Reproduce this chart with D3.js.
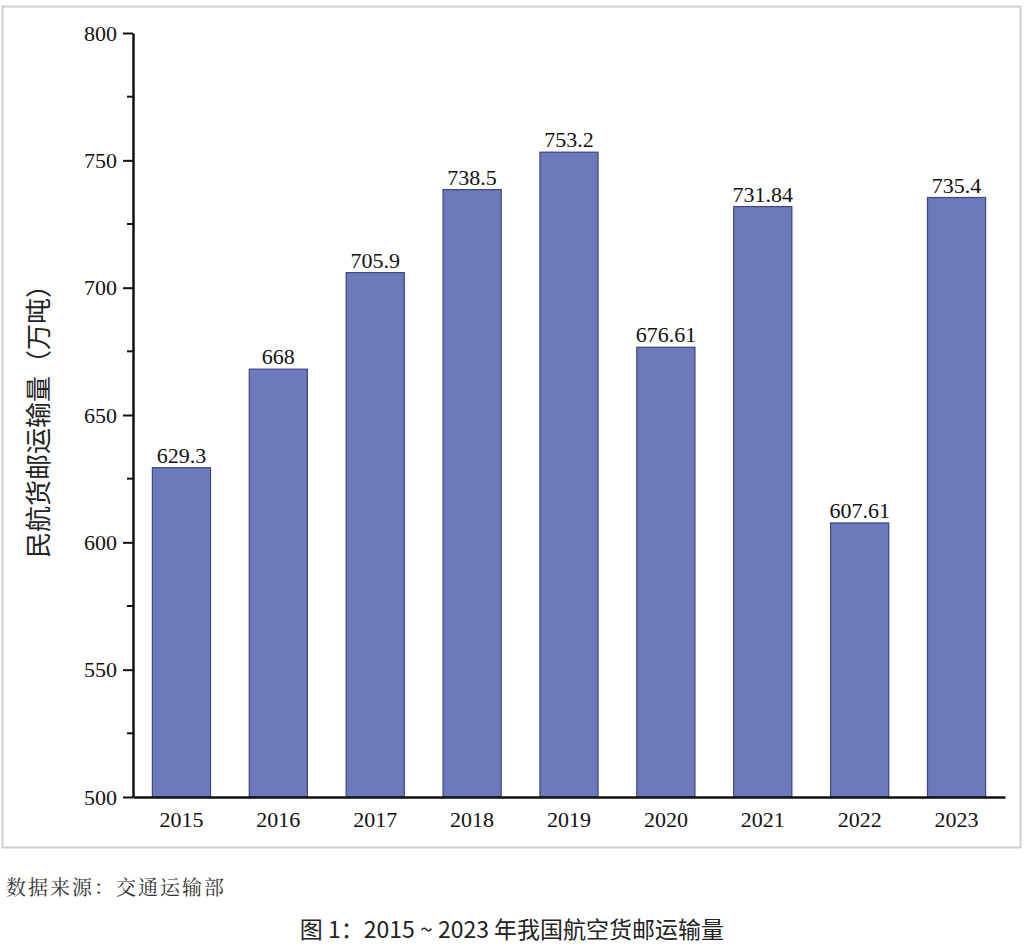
<!DOCTYPE html>
<html><head><meta charset="utf-8">
<script src="https://cdn.jsdelivr.net/npm/d3@7"></script>
<style>body{margin:0;background:#fff}</style>
</head><body>
<svg id="chart" width="1024" height="951"></svg>
<script>
// data
var years = ['2015','2016','2017','2018','2019','2020','2021','2022','2023'];
var volumes = [629.3, 668, 705.9, 738.5, 753.2, 676.61, 731.84, 607.61, 735.4];
var labels = ['629.3','668','705.9','738.5','753.2','676.61','731.84','607.61','735.4'];
var yTicks = [500, 550, 600, 650, 700, 750, 800];

var margin = {top: 33, right: 19, bottom: 154, left: 133}
  , width = 1024
  , height = 951
  , innerW = width - margin.left - margin.right
  , innerH = height - margin.top - margin.bottom;

var svg = d3.select('#chart');
var serif = '"Liberation Serif", "DejaVu Serif", serif';

// outer frame
svg.append('rect').attr('x', 2.5).attr('y', 6.5).attr('width', 1018).attr('height', 841)
    .attr('fill', 'none').attr('stroke', '#cfcfcf').attr('stroke-width', 2);

var g = svg.append('g').attr('transform', 'translate(' + margin.left + ',' + margin.top + ')');

var x = d3.scaleBand().domain(years).range([0, innerW]).paddingInner(0.4).paddingOuter(0.2);
var y = d3.scaleLinear().domain([500, 800]).range([innerH, 0]);

g.selectAll('rect.bar').data(volumes).enter().append('rect')
    .attr('class', 'bar')
    .attr('x', function (d, i) { return x(years[i]); })
    .attr('y', function (d) { return y(d); })
    .attr('width', x.bandwidth())
    .attr('height', function (d) { return innerH - y(d); })
    .attr('fill', '#6c79bd')
    .attr('stroke', '#3d4680')
    .attr('stroke-width', 1.2);

g.selectAll('text.val').data(volumes).enter().append('text')
    .attr('class', 'val')
    .attr('x', function (d, i) { return x(years[i]) + x.bandwidth() / 2; })
    .attr('y', function (d) { return y(d) - 5; })
    .attr('text-anchor', 'middle')
    .style('font', '22px ' + serif).attr('fill', '#111')
    .text(function (d, i) { return labels[i]; });

// minor ticks on y
g.selectAll('line.minor').data(d3.range(525, 800, 50)).enter().append('line')
    .attr('x1', -6).attr('x2', 0)
    .attr('y1', function (d) { return y(d); }).attr('y2', function (d) { return y(d); })
    .attr('stroke', '#111').attr('stroke-width', 2);

var yAxis = g.append('g').call(d3.axisLeft(y).tickValues(yTicks).tickSize(10).tickPadding(6).tickSizeOuter(0));
yAxis.select('.domain').attr('stroke-width', 2.5).attr('stroke', '#111');
yAxis.selectAll('.tick line').attr('stroke-width', 2).attr('stroke', '#111');
yAxis.selectAll('text').style('font', '22px ' + serif).attr('fill', '#111');

var xAxis = g.append('g').attr('transform', 'translate(0,' + innerH + ')')
    .call(d3.axisBottom(x).tickSize(0).tickPadding(14).tickSizeOuter(0));
xAxis.select('.domain').attr('stroke-width', 2.5).attr('stroke', '#111');
xAxis.selectAll('text').style('font', '22px ' + serif).attr('fill', '#111');

// y title
svg.append('text')
    .attr('transform', 'translate(48,' + (margin.top + innerH / 2) + ') rotate(-90)')
    .attr('text-anchor', 'middle')
    .style('font', '26px "Noto Sans CJK SC", sans-serif').attr('fill', '#222')
    .text('民航货邮运输量（万吨）');

svg.append('text').attr('x', 6).attr('y', 895)
    .style('font', '20px "Noto Serif CJK SC", "Noto Sans CJK SC", serif').attr('fill', '#333')
    .attr('letter-spacing', 2)
    .text('数据来源：交通运输部');

svg.append('text').attr('x', 512).attr('y', 938).attr('text-anchor', 'middle')
    .style('font', '23px "Noto Sans CJK SC", sans-serif').attr('fill', '#222')
    .text('图 1：2015 ~ 2023 年我国航空货邮运输量');
</script>
</body></html>
